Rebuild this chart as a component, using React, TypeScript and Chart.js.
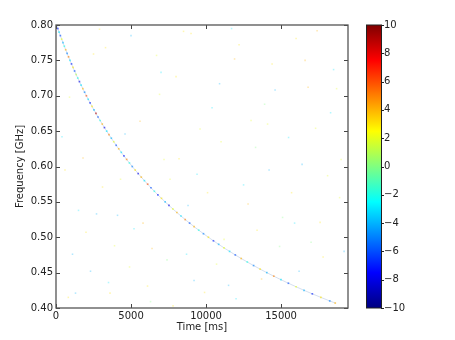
import React, { useEffect, useRef } from "react";
import { Chart, registerables } from "chart.js";

Chart.register(...registerables);

// Dispersed pulse track (frequency in GHz, time in ms, value)
const curveFreq = [
  0.8, 0.795, 0.79, 0.785, 0.78, 0.775, 0.77, 0.765, 0.76, 0.755, 0.75, 0.745, 0.74, 0.735, 0.73, 0.725,
  0.72, 0.715, 0.71, 0.705, 0.7, 0.695, 0.69, 0.685, 0.68, 0.675, 0.67, 0.665, 0.66, 0.655, 0.65, 0.645,
  0.64, 0.635, 0.63, 0.625, 0.62, 0.615, 0.61, 0.605, 0.6, 0.595, 0.59, 0.585, 0.58, 0.575, 0.57, 0.565,
  0.56, 0.555, 0.55, 0.545, 0.54, 0.535, 0.53, 0.525, 0.52, 0.515, 0.51, 0.505, 0.5, 0.495, 0.49, 0.485,
  0.48, 0.475, 0.47, 0.465, 0.46, 0.455, 0.45, 0.445, 0.44, 0.435, 0.43, 0.425, 0.42, 0.415, 0.41, 0.407,
];
const curveTime = [
  40, 122, 205, 290, 377, 465, 555, 647, 740, 836, 933, 1033, 1134, 1238, 1343, 1451,
  1561, 1673, 1788, 1905, 2025, 2147, 2272, 2400, 2531, 2664, 2800, 2940, 3083, 3229, 3378, 3531,
  3687, 3848, 4012, 4180, 4352, 4528, 4709, 4894, 5083, 5278, 5478, 5682, 5892, 6108, 6329, 6556,
  6789, 7029, 7275, 7528, 7787, 8055, 8330, 8612, 8903, 9203, 9511, 9829, 10156, 10493, 10840, 11198,
  11568, 11949, 12342, 12749, 13168, 13602, 14049, 14513, 14992, 15487, 16000, 16531, 17082, 17652, 18243, 18609,
];
const curveValue = [
  -8, -7, -3, -6, 2, -4, -2, 4, -5, 5, -3, -7, 3, -6, 1, -2,
  -8, -3, 4, -5, 6, -3, -7, 3, -4, 9, -6, -2, 4, -8, -3, 5,
  -4, 2, -6, 4, -3, -7, 5, -2, -5, 3, -8, 4, -3, 6, -6, -2,
  -7, 3, -4, -8, 2, 4, -3, 5, -6, 4, -2, -5, 3, -7, -4, 2,
  -3, -6, 4, -2, -5, 3, -4, 5, -3, -6, 2, -4, -7, 3, -5, 4,
];

// Faint background speckles
const noiseTime = [
  820, 2300, 3900, 5200, 6100, 7400, 8800, 9900, 11200, 12500, 13700, 15100, 16400, 17800, 18900,
  1500, 3100, 4600, 6900, 8200, 10400, 11900, 13300, 14600, 16000, 17300, 18500, 600, 2700, 4300,
  5600, 7000, 8500, 9600, 10900, 12200, 13900, 15500, 16800, 18100, 1100, 2000, 3500, 4900, 6400,
  7800, 9200, 10700, 12000, 13400, 14900, 16200, 17600, 19000, 400, 1800, 3300, 5000, 6700, 8000,
  9400, 11000, 12800, 14200, 15700, 17000, 18300, 900, 2500, 4100, 5800, 7200, 8700, 10100, 11500,
  13000, 14400, 15900, 17400, 18700, 1300, 3600, 6300, 9000, 11700, 14100, 16600, 19200, 2900, 7600,
];
const noiseFreq = [
  0.415, 0.452, 0.488, 0.512, 0.431, 0.468, 0.545, 0.422, 0.497, 0.574, 0.441, 0.528, 0.603, 0.472, 0.556,
  0.538, 0.571, 0.646, 0.702, 0.611, 0.683, 0.752, 0.627, 0.708, 0.781, 0.654, 0.737, 0.595, 0.533, 0.582,
  0.664, 0.733, 0.791, 0.653, 0.717, 0.772, 0.688, 0.641, 0.712, 0.587, 0.476, 0.507, 0.436, 0.458, 0.484,
  0.403, 0.439, 0.462, 0.413, 0.51, 0.487, 0.452, 0.521, 0.61, 0.642, 0.612, 0.768, 0.785, 0.757, 0.727,
  0.589, 0.635, 0.547, 0.595, 0.563, 0.493, 0.676, 0.698, 0.759, 0.531, 0.52, 0.61, 0.476, 0.563, 0.432,
  0.665, 0.745, 0.52, 0.792, 0.71, 0.421, 0.421, 0.409, 0.788, 0.795, 0.66, 0.75, 0.48, 0.794, 0.582,
];
const noiseValue = [
  3, -4, 2, -3, 3, 0, -4, 3, 2, -3, 4, 0, -4, 3, 2,
  -3, 3, -4, 2, 3, -3, 4, 0, -4, 3, 2, -3, 3, -4, 2,
  4, -3, 3, 2, -4, 3, 0, -3, 4, 2, -4, 3, -3, 2, 4,
  3, -4, 2, -3, 3, 0, -4, 3, 2, -3, 4, 3, -4, 2, 3,
  -3, 2, 4, -4, 3, 0, -3, 2, 3, -4, 4, 2, -3, 3, -4,
  2, 3, -3, 4, 2, -4, 3, 0, 3, -3, 2, 4, -4, 3, 2,
];

const xTicks = [0, 5000, 10000, 15000];
const yTicks = [0.4, 0.45, 0.5, 0.55, 0.6, 0.65, 0.7, 0.75, 0.8];
const cbTicks = [-10, -8, -6, -4, -2, 0, 2, 4, 6, 8, 10];
const xMax = 19460;

function jet(v: number, a: number): string {
  const x = Math.max(0, Math.min(1, (v + 10) / 20));
  const c = (t: number) => Math.round(255 * Math.max(0, Math.min(1, 1.5 - Math.abs(4 * x - t))));
  return `rgba(${c(3)},${c(2)},${c(1)},${a})`;
}

const FONT = "'DejaVu Sans', sans-serif";

const framePlugin = {
  id: "frame",
  afterDraw(chart: any) {
    const { ctx, chartArea: ca, scales } = chart;
    ctx.save();
    ctx.strokeStyle = "#444";
    ctx.lineWidth = 1;
    ctx.beginPath();
    for (const v of xTicks) {
      const px = Math.round(scales.x.getPixelForValue(v)) + 0.5;
      ctx.moveTo(px, ca.bottom);
      ctx.lineTo(px, ca.bottom - 4);
      ctx.moveTo(px, ca.top);
      ctx.lineTo(px, ca.top + 4);
    }
    for (const v of yTicks) {
      const py = Math.round(scales.y.getPixelForValue(v)) + 0.5;
      ctx.moveTo(ca.left, py);
      ctx.lineTo(ca.left + 4, py);
      ctx.moveTo(ca.right, py);
      ctx.lineTo(ca.right - 4, py);
    }
    ctx.stroke();
    ctx.strokeStyle = "#555";
    ctx.lineWidth = 1.3;
    ctx.strokeRect(ca.left, ca.top, ca.right - ca.left, ca.bottom - ca.top);

    const cb = scales.cb;
    const x0 = cb.left + 18;
    const w = 15;
    const top = cb.getPixelForValue(10);
    const bot = cb.getPixelForValue(-10);
    const g = ctx.createLinearGradient(0, bot, 0, top);
    for (let i = 0; i <= 40; i++) {
      g.addColorStop(i / 40, jet(-10 + i * 0.5, 1));
    }
    ctx.fillStyle = g;
    ctx.fillRect(x0, top, w, bot - top);
    ctx.strokeStyle = "#222";
    ctx.lineWidth = 1;
    ctx.strokeRect(x0 + 0.5, top, w, bot - top);
    ctx.beginPath();
    for (const v of cbTicks) {
      const py = Math.round(cb.getPixelForValue(v)) + 0.5;
      ctx.moveTo(x0 + w, py);
      ctx.lineTo(x0 + w + 3, py);
    }
    ctx.stroke();
    ctx.restore();
  },
};

export default function App() {
  const ref = useRef<HTMLCanvasElement | null>(null);
  useEffect(() => {
    if (!ref.current) return;
    const curvePts = curveTime.map((t, i) => ({ x: t, y: curveFreq[i] }));
    const noisePts = noiseTime.map((t, i) => ({ x: t, y: noiseFreq[i] }));
    const chart = new Chart(ref.current, {
      type: "scatter",
      data: {
        datasets: [
          {
            data: curvePts,
            showLine: true,
            borderColor: "rgba(150,175,215,0.45)",
            borderWidth: 0.9,
            pointRadius: 0,
            order: 3,
          } as any,
          {
            data: noisePts,
            pointStyle: "rect",
            pointRadius: 1.1,
            borderWidth: 0,
            backgroundColor: noiseValue.map((v) => jet(v, 0.3)),
            order: 2,
          } as any,
          {
            data: curvePts,
            pointStyle: "rect",
            pointRadius: 1.2,
            borderWidth: 0,
            backgroundColor: curveValue.map((v) => jet(v, 0.6)),
            order: 1,
          } as any,
        ],
      },
      options: {
        animation: false,
        responsive: false,
        layout: { padding: { top: 25, left: 0, right: 0, bottom: 0 } },
        plugins: { legend: { display: false }, tooltip: { enabled: false } },
        scales: {
          x: {
            type: "linear",
            min: 0,
            max: xMax,
            grid: { display: false, drawTicks: false },
            border: { display: false },
            afterFit: (s: any) => {
              s.height = 32;
            },
            afterBuildTicks: (s: any) => {
              s.ticks = xTicks.map((v) => ({ value: v }));
            },
            ticks: {
              padding: 2,
              color: "#222",
              font: { family: FONT, size: 10 },
              maxRotation: 0,
              callback: (v: any) => String(v),
            },
            title: {
              display: true,
              text: "Time [ms]",
              color: "#222",
              font: { family: FONT, size: 10 },
              padding: { top: 0, bottom: 7 },
            },
          },
          y: {
            type: "linear",
            min: 0.4,
            max: 0.8,
            grid: { display: false, drawTicks: false },
            border: { display: false },
            afterFit: (s: any) => {
              s.width = 56;
            },
            afterBuildTicks: (s: any) => {
              s.ticks = yTicks.map((v) => ({ value: v }));
            },
            ticks: {
              padding: 3,
              color: "#222",
              font: { family: FONT, size: 10 },
              callback: (v: any) => Number(v).toFixed(2),
            },
            title: {
              display: true,
              text: "Frequency [GHz]",
              color: "#222",
              font: { family: FONT, size: 10 },
              padding: { top: 14, bottom: 0 },
            },
          },
          cb: {
            type: "linear",
            position: "right",
            min: -10,
            max: 10,
            grid: {
              display: true,
              drawOnChartArea: false,
              drawTicks: true,
              tickLength: 33,
              color: "rgba(0,0,0,0)",
              tickColor: "rgba(0,0,0,0)",
            },
            border: { display: false },
            afterFit: (s: any) => {
              s.width = 107;
            },
            afterBuildTicks: (s: any) => {
              s.ticks = cbTicks.map((v) => ({ value: v }));
            },
            ticks: {
              padding: 3,
              color: "#222",
              font: { family: FONT, size: 10 },
              callback: (v: any) => (Number(v) < 0 ? "\u2212" + Math.abs(Number(v)) : String(v)),
            },
          },
        },
      } as any,
      plugins: [framePlugin],
    });
    return () => chart.destroy();
  }, []);
  return (
    <div style={{ position: "absolute", left: 0, top: 0, width: 455, height: 340, background: "#fff" }}>
      <canvas ref={ref} width={455} height={340} style={{ width: 455, height: 340, display: "block" }} />
    </div>
  );
}
